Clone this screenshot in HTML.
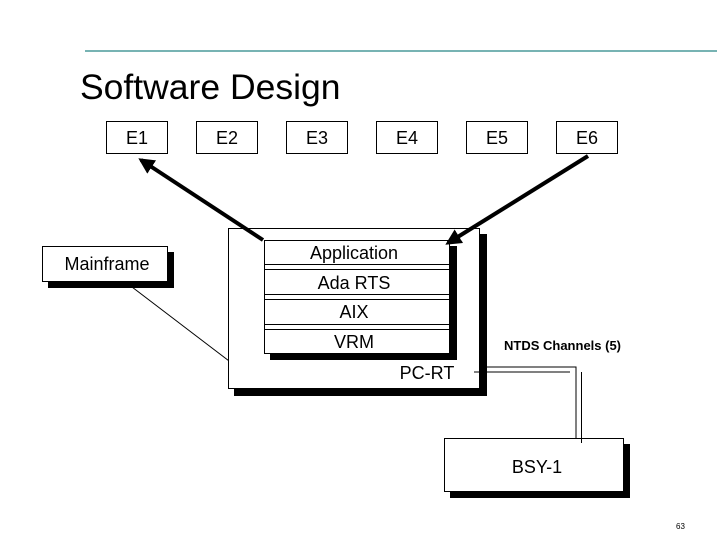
<!DOCTYPE html>
<html><head><meta charset="utf-8"><style>
html,body{margin:0;padding:0;background:#fff;}
svg{display:block;}
text{font-family:"Liberation Sans",Arial,sans-serif;fill:#000;}
</style></head><body>
<svg width="720" height="540" viewBox="0 0 720 540" xmlns="http://www.w3.org/2000/svg">
<defs>
<marker id="ah" viewBox="0 0 10 10" refX="8" refY="5" markerWidth="4" markerHeight="4" orient="auto"><path d="M0,0 L10,5 L0,10 z" fill="#000"/></marker>
</defs>
<line x1="85" y1="51" x2="717" y2="51" stroke="#4a9a9a" stroke-width="1.5"/>
<text x="80" y="99" font-size="35.5">Software Design</text>

<g fill="#fff" stroke="#000" stroke-width="1">
<rect x="106.5" y="121.5" width="61" height="32"/>
<rect x="196.5" y="121.5" width="61" height="32"/>
<rect x="286.5" y="121.5" width="61" height="32"/>
<rect x="376.5" y="121.5" width="61" height="32"/>
<rect x="466.5" y="121.5" width="61" height="32"/>
<rect x="556.5" y="121.5" width="61" height="32"/>
</g>
<g font-size="18" text-anchor="middle">
<text x="137" y="144">E1</text><text x="227" y="144">E2</text><text x="317" y="144">E3</text>
<text x="407" y="144">E4</text><text x="497" y="144">E5</text><text x="587" y="144">E6</text>
</g>

<rect x="48" y="252" width="126" height="36" fill="#000"/>
<rect x="42.5" y="246.5" width="125" height="35" fill="#fff" stroke="#000"/>
<text x="107" y="270" font-size="18" text-anchor="middle">Mainframe</text>
<line x1="132" y1="287" x2="233" y2="364" stroke="#000" stroke-width="1"/>

<rect x="234" y="234" width="253" height="162" fill="#000"/>
<rect x="228.5" y="228.5" width="251" height="160" fill="#fff" stroke="#000"/>
<text x="427" y="379" font-size="18" text-anchor="middle">PC-RT</text>

<rect x="270" y="246" width="187" height="114" fill="#000"/>
<rect x="264.5" y="240.5" width="185" height="113" fill="#fff" stroke="#000"/>
<g stroke="#000" stroke-width="1">
<line x1="265" y1="264.5" x2="449" y2="264.5"/><line x1="265" y1="269.5" x2="449" y2="269.5"/>
<line x1="265" y1="294.5" x2="449" y2="294.5"/><line x1="265" y1="299.5" x2="449" y2="299.5"/>
<line x1="265" y1="324.5" x2="449" y2="324.5"/><line x1="265" y1="329.5" x2="449" y2="329.5"/>
</g>
<g font-size="18" text-anchor="middle">
<text x="354" y="259">Application</text>
<text x="354" y="289">Ada RTS</text>
<text x="354" y="318">AIX</text>
<text x="354" y="348">VRM</text>
</g>

<line x1="263" y1="240" x2="141" y2="160" stroke="#000" stroke-width="4" marker-end="url(#ah)"/>
<line x1="588" y1="156" x2="448" y2="243" stroke="#000" stroke-width="4" marker-end="url(#ah)"/>

<text x="504" y="350" font-size="13" font-weight="bold">NTDS Channels (5)</text>
<polyline points="485,367 576,367 576,440" fill="none" stroke="#000"/>
<polyline points="474,372 570,372" fill="none" stroke="#000"/>
<line x1="581.5" y1="372" x2="581.5" y2="443" stroke="#000"/>

<rect x="450" y="444" width="180" height="54" fill="#000"/>
<rect x="444.5" y="438.5" width="179" height="53" fill="#fff" stroke="#000"/>
<line x1="581.5" y1="438" x2="581.5" y2="443" stroke="#000"/>
<text x="537" y="473" font-size="18" text-anchor="middle">BSY-1</text>

<text x="676" y="529" font-size="8">63</text>
</svg>
</body></html>
